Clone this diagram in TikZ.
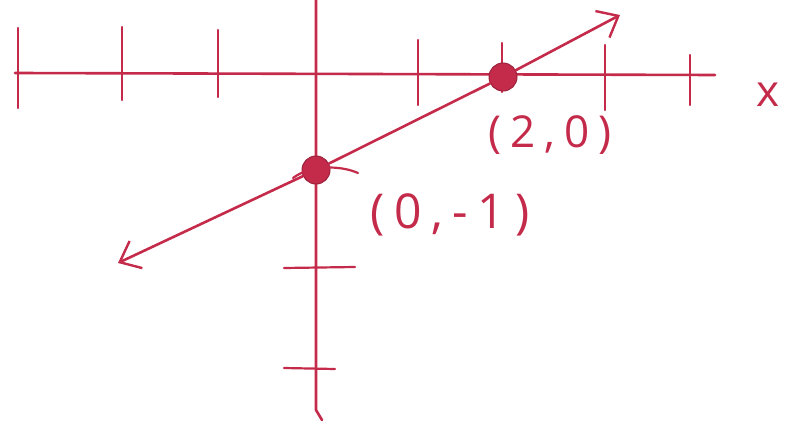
\documentclass[tikz,border=0pt]{standalone}
\usepackage{fontspec}
\setmainfont{Open Sans}[LetterSpace=20]
\usetikzlibrary{arrows.meta}
\definecolor{ink}{RGB}{196,42,74}
\begin{document}
\begin{tikzpicture}[x=1pt,y=-1pt,
  pen/.style={draw=ink,line width=2.6pt,line cap=round},
  tick/.style={draw=ink,line width=2.2pt,line cap=round},
  dot/.style={circle,fill=ink,draw=ink!80!black,line width=1pt,minimum size=28pt,inner sep=0pt},
  lbl/.style={text=ink,inner sep=0pt},
  barb/.style={-{Straight Barb[length=18pt,width=30pt,line width=2.4pt]}}]
\useasboundingbox (0,0) rectangle (791,422);
% axes
\coordinate (xl) at (15,73);
\coordinate (xr) at (715,75);
\coordinate (yt) at (316,0);
\coordinate (yb) at (316,410);
\coordinate (ybc) at (322,420);
\draw[pen] (xl) -- (xr);
\draw[pen] (yt) -- (yb) -- (ybc);
% x ticks
\foreach \x/\a/\b in {18/28/108,122/27/100,218/30/97,418/40/105,502/43/92,605/45/110,690/55/105}
  \draw[tick] (\x,\a) -- (\x,\b);
% y ticks
\draw[tick] (284,268) -- (355,267);
\draw[tick] (284,368) -- (335,369);
% points
\node[dot] (p2) at (503,77) {};
\node[dot] (p0) at (316,170) {};
% line
\coordinate (lb) at (118,263);
\coordinate (lt) at (620,15);
\draw[pen,barb] (p0) -- (lb);
\draw[pen,barb] (p2) -- (lt);
\draw[pen] (p0) -- (p2);
% small stroke at (0,-1)
\coordinate (h1) at (293,178);
\coordinate (h2) at (358,173);
\draw[tick] (h1) .. controls (310,165) and (340,165) .. (h2);
% labels
\node[lbl,font=\fontsize{44}{44}\selectfont] (l2) at (550,135) {(2,0)};
\node[lbl,font=\fontsize{48}{48}\selectfont] (l0) at (450,215) {(0,-1)};
\node[lbl,font=\fontsize{44}{44}\selectfont] (lx) at (768,95) {x};
\end{tikzpicture}
\end{document}
